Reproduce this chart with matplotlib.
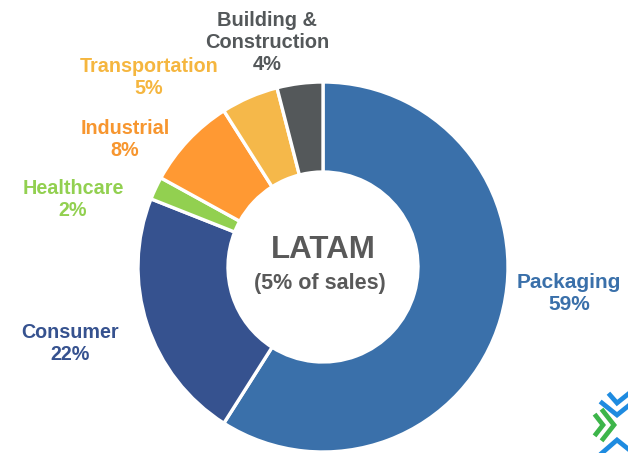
import matplotlib
matplotlib.use("Agg")
import matplotlib.pyplot as plt

plt.rcParams["font.family"] = ["Liberation Sans", "DejaVu Sans"]

# segments, clockwise from 12 o'clock
segments = ["Packaging", "Consumer", "Healthcare", "Industrial", "Transportation", "Building &\nConstruction"]
shares = [59, 22, 2, 8, 5, 4]
colors = ["#3A70AA", "#36528F", "#92D050", "#FF9933", "#F5B84A", "#54585A"]
label_colors = ["#3A70AA", "#36528F", "#92D050", "#F7962F", "#F5B63F", "#54585A"]
label_sizes = [15, 14.2, 14.2, 14.2, 14.2, 14.4]
# label anchor (pixel coords, y down)
label_xy = [(569, 293), (70, 343), (73, 199), (125, 140), (149, 78), (267, 42)]
center_title = "LATAM"
center_sub = "(5% of sales)"

fig = plt.figure(figsize=(6.28, 4.53), dpi=100)
ax = fig.add_axes([0, 0, 1, 1])

ax.pie(shares, colors=colors, startangle=-90, counterclock=True,
       center=(323, 267), radius=185,
       wedgeprops=dict(width=90, edgecolor="white", linewidth=2.4))

for name, v, (x, y), c, fs in zip(segments, shares, label_xy, label_colors, label_sizes):
    ax.text(x, y, f"{name}\n{v}%", ha="center", va="center", color=c,
            fontsize=fs, fontweight="bold", linespacing=1.2)

ax.text(323, 250, center_title, ha="center", va="center", color="#595959",
        fontsize=22.5, fontweight="bold")
ax.text(320, 283, center_sub, ha="center", va="center", color="#595959",
        fontsize=15.5, fontweight="bold")

# corner logo (partly cut off at the edge)
green, blue = "#3DB54A", "#1E8BE0"
ax.plot([596, 603, 596], [416, 425, 434], color=green, lw=3.4, solid_joinstyle="miter")
ax.plot([603, 614, 603], [411, 425, 439], color=green, lw=3.4, solid_joinstyle="miter")
ax.plot([602, 617, 632], [403, 415, 403], color=blue, lw=3.4, solid_joinstyle="miter")
ax.plot([610, 617, 632], [395, 403, 391], color=blue, lw=3.4, solid_joinstyle="miter")
ax.plot([602, 617, 632], [453, 440, 452], color=blue, lw=3.4, solid_joinstyle="miter")

ax.set_xlim(0, 628)
ax.set_ylim(453, 0)
ax.set_aspect("auto")
ax.axis("off")

fig.savefig("out.png", dpi=100)
